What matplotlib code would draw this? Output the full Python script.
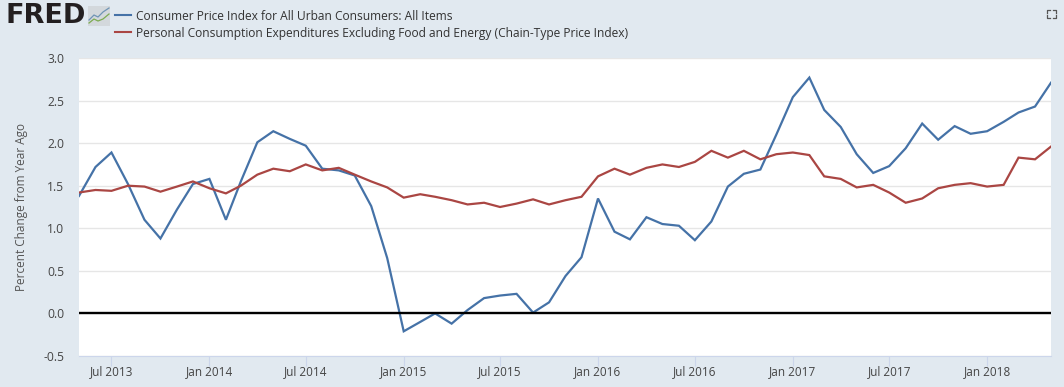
import pandas as pd
import matplotlib
matplotlib.use("Agg")
import matplotlib.pyplot as plt
import matplotlib.dates as mdates
from matplotlib.patches import Rectangle

plt.rcParams['font.family'] = ['Open Sans', 'DejaVu Sans']

months = pd.date_range("2013-05-01", "2018-05-01", freq="MS")

cpi = [1.38, 1.72, 1.89, 1.52, 1.10, 0.88, 1.22, 1.52, 1.58, 1.10, 1.55, 2.01,
       2.14, 2.05, 1.97, 1.70, 1.68, 1.62, 1.26, 0.65, -0.21, -0.10, 0.00, -0.12,
       0.04, 0.18, 0.21, 0.23, 0.01, 0.13, 0.44, 0.66, 1.35, 0.96, 0.87, 1.13,
       1.05, 1.03, 0.86, 1.08, 1.49, 1.64, 1.69, 2.10, 2.54, 2.77, 2.39, 2.19,
       1.87, 1.65, 1.73, 1.94, 2.23, 2.04, 2.20, 2.11, 2.14, 2.25, 2.36, 2.43, 2.71]
pce = [1.42, 1.45, 1.44, 1.50, 1.49, 1.43, 1.49, 1.55, 1.47, 1.41, 1.50, 1.63,
       1.70, 1.67, 1.75, 1.68, 1.71, 1.63, 1.55, 1.48, 1.36, 1.40, 1.37, 1.33,
       1.28, 1.30, 1.25, 1.29, 1.34, 1.28, 1.33, 1.37, 1.61, 1.70, 1.63, 1.71,
       1.75, 1.72, 1.78, 1.91, 1.83, 1.91, 1.81, 1.87, 1.89, 1.86, 1.61, 1.58,
       1.48, 1.51, 1.42, 1.30, 1.35, 1.47, 1.51, 1.53, 1.49, 1.51, 1.83, 1.81, 1.96]

cpi_name = "Consumer Price Index for All Urban Consumers: All Items"
pce_name = "Personal Consumption Expenditures Excluding Food and Energy (Chain-Type Price Index)"

y_ticks = [-0.5, 0.0, 0.5, 1.0, 1.5, 2.0, 2.5, 3.0]
x_ticks = ["2013-07-01", "2014-01-01", "2014-07-01", "2015-01-01", "2015-07-01",
           "2016-01-01", "2016-07-01", "2017-01-01", "2017-07-01", "2018-01-01"]

W, H = 1064, 387
bg = "#e1e9f0"
text_col = "#444444"

fig = plt.figure(figsize=(W / 100, H / 100), dpi=100, facecolor=bg)
ax = fig.add_axes([79 / W, 1 - 356 / H, 972 / W, 298 / H])

ax.grid(axis="y", color="#e6e6e6", lw=1)
ax.set_axisbelow(True)
ax.plot(months, cpi, color="#4572a7", lw=1.6, zorder=3, solid_joinstyle="miter")
ax.plot(months, pce, color="#aa4643", lw=1.6, zorder=3, solid_joinstyle="miter")
ax.axhline(0, color="black", lw=1.7, zorder=4)

ax.set_xlim(months[0], months[-1])
ax.set_ylim(-0.5, 3.0)
ax.set_yticks(y_ticks)
ax.set_yticklabels([f"{v:.1f}" for v in y_ticks])
ax.set_xticks(pd.to_datetime(x_ticks))
ax.xaxis.set_major_formatter(mdates.DateFormatter("%b %Y"))
ax.tick_params(axis="y", length=0, labelsize=8.7, labelcolor=text_col, pad=10.5)
ax.tick_params(axis="x", length=7, width=0.8, color="#ccd6eb", labelsize=8.5,
               labelcolor=text_col, pad=-0.5)
for s in ["top", "left", "right"]:
    ax.spines[s].set_visible(False)
ax.spines["bottom"].set_color("#ccd6eb")
ax.set_ylabel("Percent Change from Year Ago", fontsize=8.5, color="#555555")
ax.yaxis.set_label_coords((28 - 79) / 972, 0.5)

# header: logo and legend
fig.text(5 / W, 1 - 16 / H, "FRED", fontsize=19.5, fontweight="bold", color="#231f20",
         family="DejaVu Sans", va="center", ha="left")
fig.add_artist(Rectangle((88 / W, 1 - 26 / H), 22 / W, 20 / H, transform=fig.transFigure,
                         fc="#d3d8dc", ec="none"))
fig.add_artist(plt.Line2D([89 / W, 94 / W, 98 / W, 103 / W, 109 / W],
                          [1 - 20 / H, 1 - 15 / H, 1 - 17 / H, 1 - 12 / H, 1 - 8 / H],
                          color="#6f94b5", lw=0.9))
fig.add_artist(plt.Line2D([89 / W, 94 / W, 98 / W, 103 / W, 109 / W],
                          [1 - 23 / H, 1 - 19 / H, 1 - 21 / H, 1 - 19 / H, 1 - 14 / H],
                          color="#7cab52", lw=0.9))
for y, col, name in [(15, "#4572a7", cpi_name), (32, "#aa4643", pce_name)]:
    fig.add_artist(plt.Line2D([115 / W, 131 / W], [1 - y / H, 1 - y / H], color=col, lw=1.5))
    fig.text(136 / W, 1 - (y + 1) / H, name, fontsize=8.68, color="#333333", va="center", ha="left")

# fullscreen icon, corner brackets
cx0, cx1, cy0, cy1 = 1047, 1056, 10, 18
for xs, ys in [((cx0, cx0, cx0 + 3), (cy0 + 3, cy0, cy0)),
               ((cx1 - 3, cx1, cx1), (cy0, cy0, cy0 + 3)),
               ((cx0, cx0, cx0 + 3), (cy1 - 3, cy1, cy1)),
               ((cx1 - 3, cx1, cx1), (cy1, cy1, cy1 - 3))]:
    fig.add_artist(plt.Line2D([x / W for x in xs], [1 - y / H for y in ys],
                              color="#555555", lw=0.9))

fig.savefig("out.png", dpi=100, facecolor=bg)
